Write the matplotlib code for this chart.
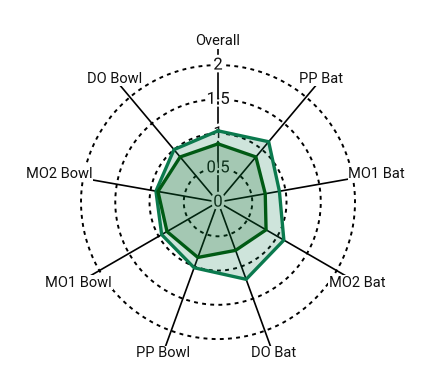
import numpy as np
import matplotlib
matplotlib.use("Agg")
import matplotlib.pyplot as plt
import matplotlib.patheffects as pe

plt.rcParams['font.family'] = ['Roboto', 'DejaVu Sans']

# ---------- Data ----------
categories = ["Overall", "PP Bat", "MO1 Bat", "MO2 Bat", "DO Bat",
              "PP Bowl", "MO1 Bowl", "MO2 Bowl", "DO Bowl"]
outer_vals = [1.04, 1.15, 0.91, 1.11, 1.20, 1.02, 0.95, 0.92, 1.00]
inner_vals = [0.85, 0.86, 0.70, 0.81, 0.75, 0.86, 0.86, 0.89, 0.86]
ring_vals = [0.5, 1.0, 1.5, 2.0]
tick_labels = ["0", "0.5", "1", "1.5", "2"]
tick_vals = [0, 0.5, 1, 1.5, 2]

outer_color = "#0b7a4e"
inner_color = "#005a14"

n = len(categories)
angles = np.linspace(0, 2 * np.pi, n, endpoint=False)

# ---------- Figure ----------
fig = plt.figure(figsize=(4.33, 3.92), dpi=100)
ax = fig.add_axes([0.187, 0.135, 0.633, 0.699], projection='polar')
ax.set_theta_zero_location('N')
ax.set_theta_direction(-1)
ax.set_ylim(0, 2)
ax.grid(False)
ax.spines['polar'].set_visible(False)
ax.set_xticks([])
ax.set_yticks([])
ax.patch.set_alpha(0)

# rings
t = np.linspace(0, 2 * np.pi, 400)
for r in ring_vals:
    ax.plot(t, np.full_like(t, r), color='black', lw=1.4,
            linestyle=(0, (2, 2.2)), zorder=1.5, clip_on=False)

# spokes + labels
label_r = 2.35
for a, name in zip(angles, categories):
    ax.plot([a, a], [0, label_r], color='black', lw=1.2, zorder=1, clip_on=False)
    ax.text(a, label_r, name, ha='center', va='center', fontsize=10.5,
            color='#111111', zorder=2,
            bbox=dict(facecolor='white', edgecolor='none', pad=0.5))

# radial tick labels
for v, s in zip(tick_vals, tick_labels):
    ax.text(0, v, s, ha='center', va='center', fontsize=12, color='#111111',
            zorder=2.5,
            path_effects=[pe.withStroke(linewidth=4, foreground='white')])

# polygons
for vals, col in [(outer_vals, outer_color), (inner_vals, inner_color)]:
    th = np.append(angles, angles[0])
    rr = np.append(vals, vals[0])
    ax.fill(th, rr, color=col, alpha=0.2, lw=0, zorder=3)
    ax.plot(th, rr, color=col, lw=2.4, zorder=4, solid_joinstyle='miter')

plt.savefig("out.png", dpi=100)
